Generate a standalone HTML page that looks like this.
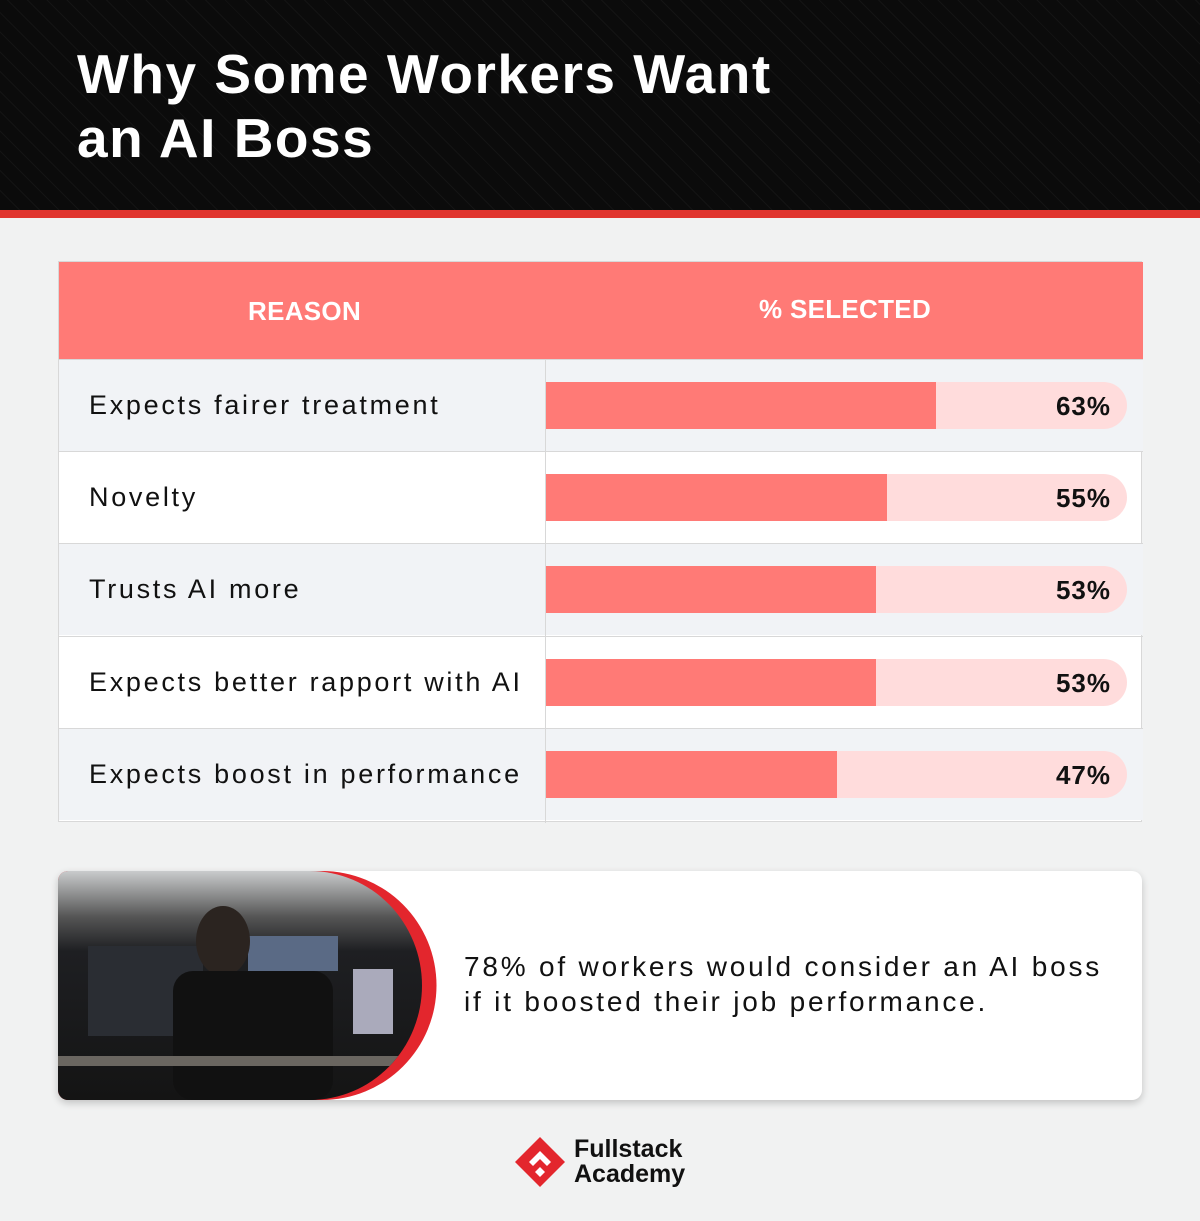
<!DOCTYPE html>
<html><head><meta charset="utf-8"><style>
*{margin:0;padding:0;box-sizing:border-box}
body{width:1200px;height:1221px;background:#f1f2f2;font-family:"Liberation Sans",sans-serif;position:relative;overflow:hidden}
.hdr{position:absolute;left:0;top:0;width:1200px;height:211px;background:#0b0b0b;
background-image:repeating-linear-gradient(45deg,rgba(255,255,255,0.035) 0 1px,transparent 1px 14px)}
.stripe{position:absolute;left:0;top:210px;width:1200px;height:8px;background:#e0352f}
.title{position:absolute;left:77px;top:42px;color:#fff;font-weight:bold;font-size:55px;line-height:64px;letter-spacing:1.5px}
.tbl{position:absolute;left:58px;top:261px;width:1084px;height:561px;border:1px solid #d8d8d8;background:#fff}
.th{position:absolute;top:0;height:97px;background:#ff7a76;width:1084px;left:0}
.th span{position:absolute;color:#fff;font-weight:bold;font-size:26px;letter-spacing:0.3px}
.row{position:absolute;left:0;width:1084px;height:92px;border-top:1px solid #d8d8d8}
.row .lab{position:absolute;left:30px;top:30px;font-size:27px;letter-spacing:2.7px;color:#111}
.vl{position:absolute;left:486px;top:97px;width:1px;height:464px;background:#d8d8d8}
.track{position:absolute;left:487px;top:22px;width:581px;height:47px;background:#ffdcdc;border-radius:0 24px 24px 0;overflow:hidden}
.fill{position:absolute;left:0;top:0;height:47px;background:#ff7a76}
.pct{position:absolute;right:16px;top:9px;font-size:26px;font-weight:bold;color:#111;letter-spacing:1px}
.card{position:absolute;left:58px;top:871px;width:1084px;height:229px;background:#fff;border-radius:10px;box-shadow:0 3px 8px rgba(0,0,0,0.2);overflow:hidden}
.ctext{position:absolute;left:406px;top:78px;font-size:28px;line-height:35px;letter-spacing:2.8px;color:#111}
.logo{position:absolute;left:574px;top:1137px;font-weight:bold;font-size:25px;line-height:25px;color:#111}
</style></head><body>
<div class="hdr"></div><div class="stripe"></div>
<div class="title">Why Some Workers Want<br>an AI Boss</div>
<div class="tbl">
 <div class="th"><span style="left:189px;top:34px">REASON</span><span style="left:700px;top:32px">% SELECTED</span></div>
 <div class="row" style="top:97px;background:#f1f3f6"><div class="lab">Expects fairer treatment</div><div class="track"><div class="fill" style="width:390px"></div><div class="pct">63%</div></div></div>
 <div class="row" style="top:189px"><div class="lab">Novelty</div><div class="track"><div class="fill" style="width:341px"></div><div class="pct">55%</div></div></div>
 <div class="row" style="top:281px;background:#f1f3f6"><div class="lab">Trusts AI more</div><div class="track"><div class="fill" style="width:330px"></div><div class="pct">53%</div></div></div>
 <div class="row" style="top:374px"><div class="lab">Expects better rapport with AI</div><div class="track"><div class="fill" style="width:330px"></div><div class="pct">53%</div></div></div>
 <div class="row" style="top:466px;background:#f1f3f6"><div class="lab">Expects boost in performance</div><div class="track"><div class="fill" style="width:291px"></div><div class="pct">47%</div></div></div>
 <div class="vl"></div>
</div>
<div class="card">
 <svg width="400" height="229" style="position:absolute;left:0;top:0">
  <defs>
   <linearGradient id="g" x1="0" y1="0" x2="0" y2="1"><stop offset="0" stop-color="#c9cbcc"/><stop offset="0.2" stop-color="#555"/><stop offset="0.35" stop-color="#1e1f22"/><stop offset="1" stop-color="#141414"/></linearGradient>
   <clipPath id="c"><path d="M0 0 H252 A112 114.5 0 0 1 252 229 H0 Z"/></clipPath>
  </defs>
  <path d="M0 0 H264 A114.5 114.5 0 0 1 264 229 H0 Z" fill="#e3262d"/>
  <path d="M0 0 H252 A112 114.5 0 0 1 252 229 H0 Z" fill="url(#g)"/>
  <g clip-path="url(#c)">
   <rect x="30" y="75" width="115" height="90" fill="#2a2d33"/>
   <rect x="190" y="65" width="90" height="35" fill="#5a6a85"/>
   <rect x="295" y="98" width="40" height="65" fill="#aab"/>
   <ellipse cx="165" cy="70" rx="27" ry="35" fill="#2b2420"/>
   <rect x="115" y="100" width="160" height="129" fill="#111" rx="20"/>
   <rect x="0" y="185" width="380" height="10" fill="#6a6660"/>
  </g>
 </svg>
 <div class="ctext">78% of workers would consider an AI boss<br>if it boosted their job performance.</div>
</div>
<svg width="52" height="52" style="position:absolute;left:514px;top:1136px" viewBox="0 0 52 52">
 <path d="M26 1 L51 26 L26 51 L1 26 Z" fill="#e3262d"/>
 <path d="M26 15 L37 26 L33 30 L26 23 L19 30 L15 26 Z" fill="#fff"/>
 <path d="M26 31 L31 36 L26 41 L21 36 Z" fill="#fff"/>
</svg>
<div class="logo">Fullstack<br>Academy</div>
</body></html>
